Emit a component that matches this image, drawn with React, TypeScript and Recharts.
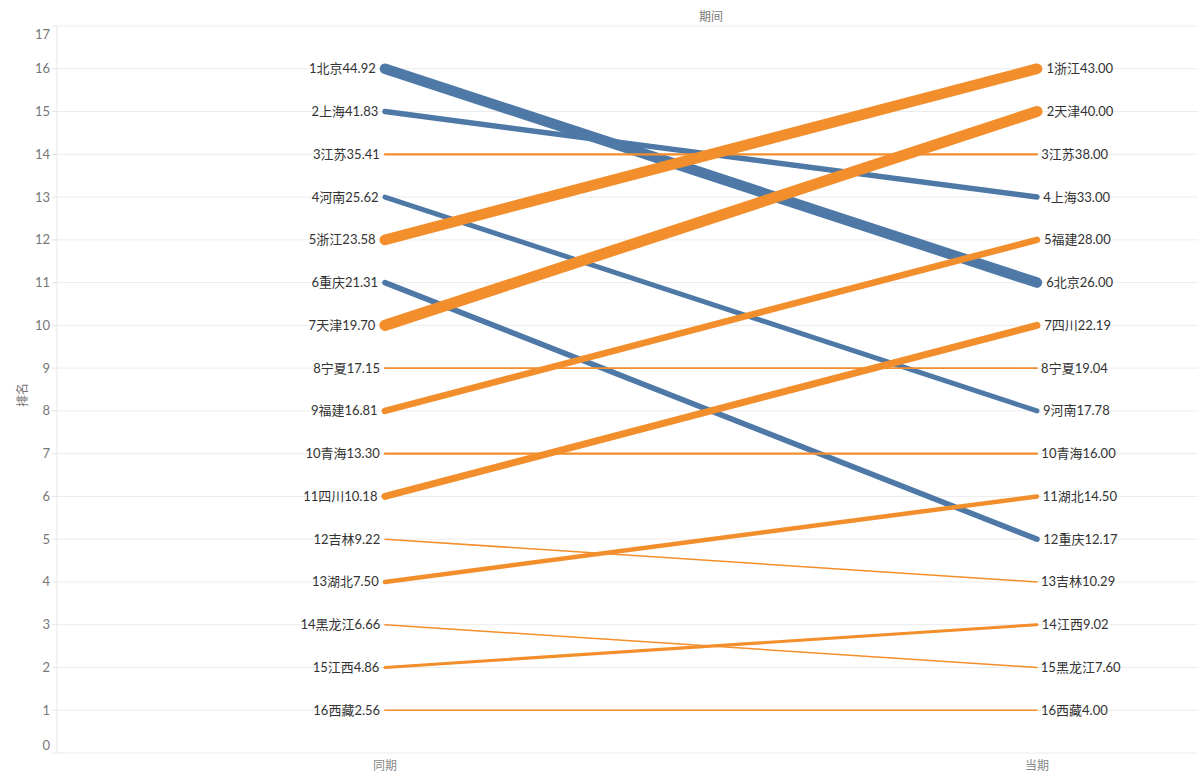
import { LineChart, Line, XAxis, YAxis, CartesianGrid } from 'recharts'

const periods = ['同期', '当期']
const provinces = ['北京', '上海', '江苏', '河南', '浙江', '重庆', '天津', '宁夏', '福建', '青海', '四川', '吉林', '湖北', '黑龙江', '江西', '西藏']
const prevValues = [44.92, 41.83, 35.41, 25.62, 23.58, 21.31, 19.7, 17.15, 16.81, 13.3, 10.18, 9.22, 7.5, 6.66, 4.86, 2.56]
const currValues = [26.0, 33.0, 38.0, 17.78, 43.0, 12.17, 40.0, 19.04, 28.0, 16.0, 22.19, 10.29, 14.5, 7.6, 9.02, 4.0]
const rankTicks = [0, 1, 2, 3, 4, 5, 6, 7, 8, 9, 10, 11, 12, 13, 14, 15, 16, 17]

const UP = '#f28e2b'
const DOWN = '#4e79a7'
const FONT = 'Lato, "Noto Sans CJK SC", sans-serif'

const rankOf = (values: number[], i: number) => 1 + values.filter((v) => v > values[i]).length

const top = provinces.length + 1
const series = provinces.map((name, i) => {
  const r0 = rankOf(prevValues, i)
  const r1 = rankOf(currValues, i)
  const diff = currValues[i] - prevValues[i]
  return {
    name,
    color: diff >= 0 ? UP : DOWN,
    width: 1 + Math.abs(diff) * 0.5,
    points: [
      { x: 0, y: top - r0, text: `${r0}${name}${prevValues[i].toFixed(2)}` },
      { x: 1, y: top - r1, text: `${r1}${name}${currValues[i].toFixed(2)}` },
    ],
  }
})

function makeLabel(s: (typeof series)[number]) {
  return (props: any) => {
    const x = props.x ?? props.viewBox?.x
    const y = props.y ?? props.viewBox?.y
    const idx = props.index ?? 0
    const left = idx === 0
    return (
      <text
        key={`${s.name}-${idx}`}
        x={left ? x - 4 - s.width / 2 : x + 3 + s.width * 0.6}
        y={y}
        dy="0.35em"
        textAnchor={left ? 'end' : 'start'}
        fontSize={13}
        fontFamily={FONT}
        fill="#333"
      >
        {s.points[idx].text}
      </text>
    )
  }
}

// end ticks are nudged inward so they stay inside the plot band
function RankTick(props: any) {
  const { x, y, payload } = props
  const v = payload.value
  const shift = v === rankTicks[rankTicks.length - 1] ? 8 : v === 0 ? -8 : 0
  return (
    <text x={x} y={y + shift} dy="0.35em" textAnchor="end" fontSize={13} fontFamily={FONT} fill="#777">
      {v}
    </text>
  )
}

export default function App() {
  return (
    <div style={{ position: 'absolute', left: 0, top: 0, width: 1198, height: 783, background: '#fff' }}>
      <div style={{ position: 'absolute', left: 611, width: 200, top: 7, textAlign: 'center', fontSize: 12, color: '#777', fontFamily: FONT }}>
        期间
      </div>
      <div
        style={{
          position: 'absolute',
          left: 21,
          top: 395,
          transform: 'translate(-50%, -50%) rotate(-90deg)',
          fontSize: 12,
          color: '#777',
          fontFamily: FONT,
          whiteSpace: 'nowrap',
        }}
      >
        排名
      </div>
      <LineChart width={1198} height={783} margin={{ top: 26, right: 0, bottom: 0, left: 0 }}>
        <CartesianGrid vertical={false} stroke="#ececec" />
        <XAxis
          type="number"
          dataKey="x"
          domain={[-0.503, 1.247]}
          ticks={[0, 1]}
          tickFormatter={(v: number) => periods[v] ?? ''}
          allowDataOverflow
          axisLine={false}
          tickLine={false}
          height={30}
          tick={{ fontSize: 12, fill: '#888', fontFamily: FONT }}
        />
        <YAxis
          type="number"
          domain={[0, 17]}
          ticks={rankTicks}
          interval={0}
          width={57}
          tickSize={5}
          axisLine={{ stroke: '#e6e6e6' }}
          tickLine={{ stroke: '#e6e6e6' }}
          tick={<RankTick />}
        />
        {series.map((s) => (
          <Line
            key={s.name}
            data={s.points}
            dataKey="y"
            type="linear"
            stroke={s.color}
            strokeWidth={s.width}
            strokeLinecap="round"
            dot={false}
            activeDot={false}
            isAnimationActive={false}
            label={makeLabel(s)}
          />
        ))}
      </LineChart>
    </div>
  )
}
